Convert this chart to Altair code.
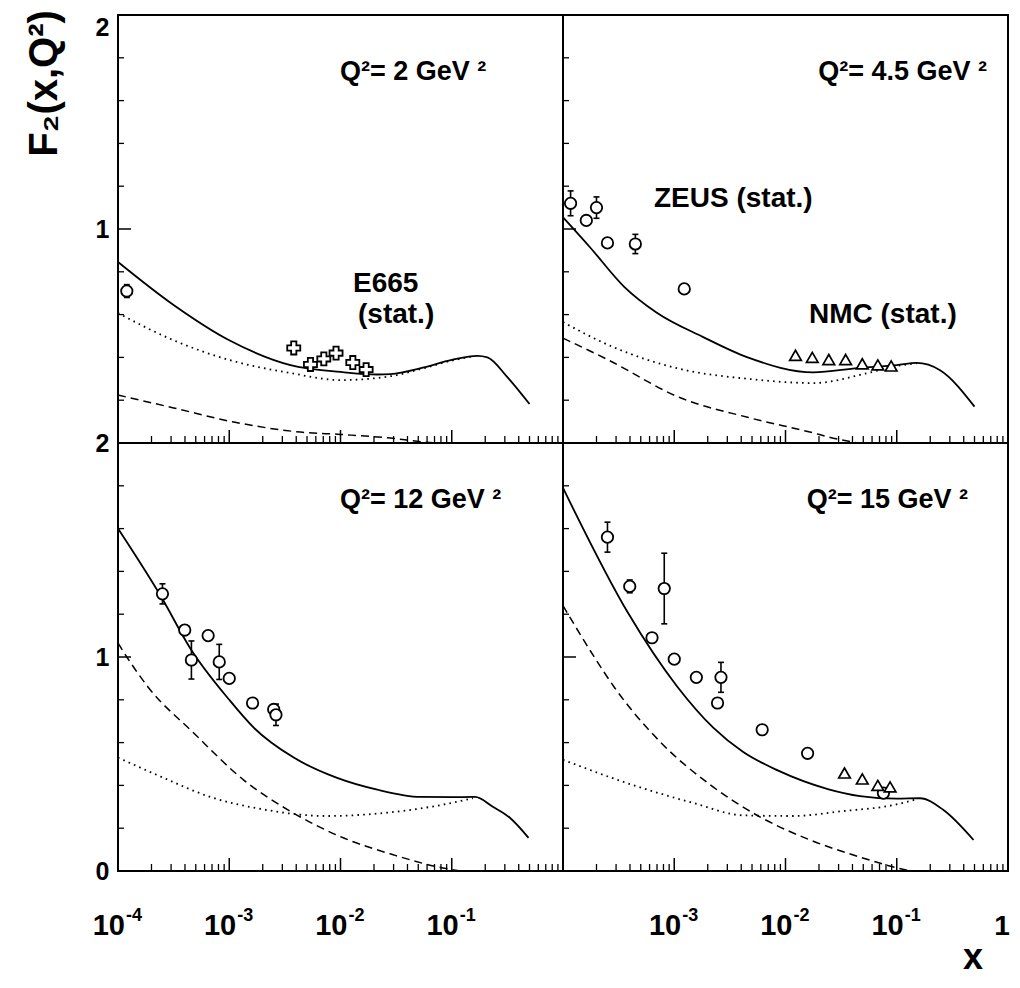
import altair as alt
import pandas as pd

FONT = "Liberation Sans"
X_DOMAIN = [1e-4, 1.0]
Y_DOMAIN = [0, 2]
W, H = 445, 428

# ---------------- curves (x, F2) ----------------
TL_SOLID_X = [1e-4, 3.16e-4, 1e-3, 3.55e-3, 0.01, 0.0214, 0.0282, 0.055, 0.1, 0.17, 0.209, 0.316, 0.50]
TL_SOLID_Y = [0.846, 0.645, 0.48, 0.364, 0.332, 0.32, 0.322, 0.352, 0.388, 0.407, 0.40, 0.308, 0.182]
TL_DOT_X = [1e-4, 3.16e-4, 1e-3, 3.55e-3, 0.01, 0.0282, 0.055, 0.1, 0.155]
TL_DOT_Y = [0.607, 0.48, 0.388, 0.327, 0.294, 0.312, 0.348, 0.385, 0.405]
TL_DASH_X = [1e-4, 3.16e-4, 1.1e-3, 4.37e-3, 0.01, 0.0282, 0.055, 0.0794]
TL_DASH_Y = [0.224, 0.164, 0.098, 0.051, 0.04, 0.023, 0.005, 0.0]

TR_SOLID_X = [1e-4, 1.74e-4, 3.55e-4, 6.92e-4, 1.82e-3, 4.57e-3, 0.0178, 0.0447, 0.1, 0.151, 0.245, 0.50]
TR_SOLID_Y = [1.055, 0.916, 0.73, 0.61, 0.495, 0.40, 0.33, 0.35, 0.364, 0.374, 0.34, 0.17]
TR_DOT_X = [1e-4, 2.51e-4, 1.15e-3, 4.57e-3, 0.0178, 0.055, 0.1, 0.151]
TR_DOT_Y = [0.565, 0.46, 0.345, 0.30, 0.28, 0.327, 0.36, 0.372]
TR_DASH_X = [1e-4, 2.51e-4, 1.15e-3, 4.57e-3, 0.0178, 0.0245, 0.0447]
TR_DASH_Y = [0.49, 0.39, 0.21, 0.12, 0.047, 0.028, 0.0]

BL_SOLID_X = [1e-4, 2.45e-4, 4.47e-4, 1e-3, 1.66e-3, 3.8e-3, 9.33e-3, 0.0214, 0.0525, 0.1, 0.162, 0.234, 0.331, 0.49]
BL_SOLID_Y = [1.60, 1.28, 1.04, 0.80, 0.67, 0.53, 0.435, 0.38, 0.346, 0.345, 0.346, 0.30, 0.25, 0.155]
BL_DOT_X = [1e-4, 2.45e-4, 6.76e-4, 1.91e-3, 7.59e-3, 0.0302, 0.0832, 0.155]
BL_DOT_Y = [0.53, 0.44, 0.346, 0.29, 0.257, 0.276, 0.31, 0.34]
BL_DASH_X = [1e-4, 1.2e-4, 1.86e-4, 4.79e-4, 1.35e-3, 3.8e-3, 0.0107, 0.0302, 0.0832, 0.12]
BL_DASH_Y = [1.065, 1.0, 0.86, 0.645, 0.425, 0.27, 0.154, 0.075, 0.014, 0.0]

BR_SOLID_X = [1e-4, 3.8e-4, 1.07e-3, 2.24e-3, 4.17e-3, 8.51e-3, 0.024, 0.0468, 0.1, 0.162, 0.263, 0.49]
BR_SOLID_Y = [1.79, 1.21, 0.86, 0.67, 0.556, 0.47, 0.383, 0.35, 0.338, 0.34, 0.285, 0.145]
BR_DOT_X = [1e-4, 3.8e-4, 1.48e-3, 4.17e-3, 0.0117, 0.0331, 0.0933, 0.151]
BR_DOT_Y = [0.52, 0.41, 0.318, 0.26, 0.257, 0.28, 0.308, 0.335]
BR_DASH_X = [1e-4, 1.91e-4, 2.88e-4, 7.59e-4, 2.14e-3, 6.03e-3, 0.0166, 0.0468, 0.0933, 0.132]
BR_DASH_Y = [1.24, 1.0, 0.86, 0.60, 0.40, 0.25, 0.145, 0.065, 0.019, 0.0]

# ---------------- data points ----------------
TL_ZEUS_X = [1.2e-4]
TL_ZEUS_Y = [0.71]
TL_ZEUS_E = [0.03]
TL_E665_X = [3.8e-3, 5.37e-3, 7.08e-3, 9.12e-3, 0.0129, 0.017]
TL_E665_Y = [0.444, 0.367, 0.393, 0.42, 0.376, 0.343]

TR_ZEUS_X = [1.17e-4, 1.62e-4, 2.0e-4, 2.51e-4, 4.47e-4, 1.23e-3]
TR_ZEUS_Y = [1.12, 1.04, 1.10, 0.935, 0.93, 0.72]
TR_ZEUS_E = [0.058, 0.0, 0.05, 0.0, 0.045, 0.0]
TR_NMC_X = [0.0123, 0.0174, 0.0245, 0.0347, 0.049, 0.0676, 0.0891]
TR_NMC_Y = [0.41, 0.40, 0.39, 0.39, 0.37, 0.365, 0.36]

BL_ZEUS_X = [2.51e-4, 3.98e-4, 4.57e-4, 6.46e-4, 8.13e-4, 1e-3, 1.62e-3, 2.51e-3, 2.63e-3]
BL_ZEUS_Y = [1.295, 1.126, 0.986, 1.10, 0.977, 0.90, 0.785, 0.755, 0.73]
BL_ZEUS_E = [0.047, 0.0, 0.089, 0.0, 0.082, 0.0, 0.0, 0.0, 0.05]

BR_ZEUS_X = [2.51e-4, 3.98e-4, 8.13e-4, 6.31e-4, 1e-3, 1.58e-3, 2.63e-3, 2.45e-3, 6.17e-3, 0.0158, 0.0759]
BR_ZEUS_Y = [1.56, 1.33, 1.32, 1.09, 0.99, 0.905, 0.905, 0.785, 0.66, 0.55, 0.364]
BR_ZEUS_E = [0.07, 0.03, 0.165, 0.0, 0.0, 0.0, 0.07, 0.0, 0.0, 0.0, 0.0]
BR_NMC_X = [0.0339, 0.049, 0.0676, 0.0871]
BR_NMC_Y = [0.458, 0.43, 0.40, 0.393]

# ---------------- axis structure ----------------
X_MAJOR = [1e-3, 1e-2, 1e-1]
X_MINOR = [k * 10.0 ** d for d in range(-4, 0) for k in range(2, 10)]
Y_MAJOR = [1.0]
Y_MINOR = [0.2, 0.4, 0.6, 0.8, 1.2, 1.4, 1.6, 1.8]
BL_XLAB = [1e-4, 1e-3, 1e-2, 1e-1]
BL_XEXP = ["-4", "-3", "-2", "-1"]
BR_XLAB = [1e-3, 1e-2, 1e-1]
BR_XEXP = ["-3", "-2", "-1"]
BR_ONE = [1.0]

xs = alt.Scale(type="log", domain=X_DOMAIN, nice=False)
ys = alt.Scale(domain=Y_DOMAIN, nice=False, zero=False)

STYLES = {
    "solid": dict(strokeWidth=1.8),
    "dot": dict(strokeWidth=1.8, strokeDash=[1.6, 4.2]),
    "dash": dict(strokeWidth=1.5, strokeDash=[8, 5]),
}


def panel(curves, zeus, crosses, tris, texts, yaxis, xlabels=None, one=False):
    X = lambda f: alt.X(f, scale=xs, axis=None)
    Y = lambda f: alt.Y(f, scale=ys, axis=yaxis)
    layers = []
    for xv, yv, st in curves:
        df = pd.DataFrame({"x": xv, "y": yv})
        layers.append(
            alt.Chart(df).mark_line(color="black", interpolate="monotone", **STYLES[st])
            .encode(x=X("x:Q"), y=Y("y:Q"))
        )
    # ticks (inward)
    layers.append(
        alt.Chart(pd.DataFrame({"v": X_MAJOR})).mark_tick(
            orient="vertical", size=13, thickness=1.5, yOffset=-6.5, color="black", opacity=1)
        .encode(x=X("v:Q"), y=alt.YDatum(0, scale=ys, axis=yaxis))
    )
    layers.append(
        alt.Chart(pd.DataFrame({"v": X_MINOR})).mark_tick(
            orient="vertical", size=7, thickness=1.3, yOffset=-3.5, color="black", opacity=1)
        .encode(x=X("v:Q"), y=alt.YDatum(0, scale=ys, axis=yaxis))
    )
    layers.append(
        alt.Chart(pd.DataFrame({"v": Y_MAJOR})).mark_tick(
            orient="horizontal", size=13, thickness=1.5, xOffset=6.5, color="black", opacity=1)
        .encode(y=Y("v:Q"), x=alt.XDatum(1e-4, scale=xs, axis=None))
    )
    layers.append(
        alt.Chart(pd.DataFrame({"v": Y_MINOR})).mark_tick(
            orient="horizontal", size=6, thickness=1.3, xOffset=3, color="black", opacity=1)
        .encode(y=Y("v:Q"), x=alt.XDatum(1e-4, scale=xs, axis=None))
    )
    if zeus is not None:
        zx, zy, ze = zeus
        dfz = pd.DataFrame({"x": zx, "y": zy, "e": ze})
        dfe = dfz[dfz["e"] > 0].copy()
        dfe["lo"] = dfe["y"] - dfe["e"]
        dfe["hi"] = dfe["y"] + dfe["e"]
        if len(dfe):
            layers.append(
                alt.Chart(dfe).mark_rule(color="black", strokeWidth=1.6)
                .encode(x=X("x:Q"), y=Y("lo:Q"), y2=alt.Y2("hi:Q"))
            )
            for col in ["lo", "hi"]:
                layers.append(
                    alt.Chart(dfe).mark_tick(orient="horizontal", size=6, thickness=1.6,
                                             color="black", opacity=1)
                    .encode(x=X("x:Q"), y=Y(col + ":Q"))
                )
        layers.append(
            alt.Chart(dfz).mark_point(shape="circle", size=130, filled=True, fill="white",
                                      stroke="black", strokeWidth=1.8, opacity=1)
            .encode(x=X("x:Q"), y=Y("y:Q"))
        )
    if crosses is not None:
        dfc = pd.DataFrame({"x": crosses[0], "y": crosses[1]})
        layers.append(
            alt.Chart(dfc).mark_point(shape="cross", size=170, filled=True, fill="white",
                                      stroke="black", strokeWidth=1.8, opacity=1)
            .encode(x=X("x:Q"), y=Y("y:Q"))
        )
    if tris is not None:
        dft = pd.DataFrame({"x": tris[0], "y": tris[1]})
        layers.append(
            alt.Chart(dft).mark_point(shape="triangle-up", size=135, filled=True, fill="white",
                                      stroke="black", strokeWidth=1.7, opacity=1)
            .encode(x=X("x:Q"), y=Y("y:Q"))
        )
    for t, px, py, fs, al in texts:
        layers.append(
            alt.Chart(pd.DataFrame({"t": [t]})).mark_text(
                font=FONT, fontWeight="bold", fontSize=fs, align=al,
                baseline="alphabetic", color="black")
            .encode(text="t:N", x=alt.value(px), y=alt.value(py))
        )
    if xlabels is not None:
        vals, exps = xlabels
        dfl = pd.DataFrame({"v": vals, "e": exps})
        layers.append(
            alt.Chart(dfl).mark_text(font=FONT, fontWeight="bold", fontSize=29, align="right",
                                     baseline="alphabetic", dx=7, color="black", text="10")
            .encode(x=X("v:Q"), y=alt.value(H + 64))
        )
        layers.append(
            alt.Chart(dfl).mark_text(font=FONT, fontWeight="bold", fontSize=18, align="left",
                                     baseline="alphabetic", dx=8, color="black")
            .encode(x=X("v:Q"), y=alt.value(H + 50), text="e:N")
        )
    if one:
        layers.append(
            alt.Chart(pd.DataFrame({"v": BR_ONE})).mark_text(
                font=FONT, fontWeight="bold", fontSize=28, align="center",
                baseline="alphabetic", dx=-6, color="black", text="1")
            .encode(x=X("v:Q"), y=alt.value(H + 64))
        )
    return alt.layer(*layers).properties(width=W, height=H)


axis_common = dict(labelFont=FONT, labelFontSize=25, labelFontWeight="bold", labelColor="black",
                   labelPadding=9, ticks=False, domain=False, grid=False, format=".0f")

tl_axis = alt.Axis(values=[1, 2], labelFlush=True, title="F₂(x,Q²)", titleFont=FONT,
                   titleFontSize=40, titleFontWeight="bold", titleColor="black", titleAngle=270,
                   titleX=-74, titleY=68, titleAlign="center", titleBaseline="middle",
                   **axis_common)
bl_axis = alt.Axis(values=[0, 1, 2], labelFlush=False, title=None, **axis_common)

TL = panel(
    [(TL_SOLID_X, TL_SOLID_Y, "solid"), (TL_DOT_X, TL_DOT_Y, "dot"), (TL_DASH_X, TL_DASH_Y, "dash")],
    (TL_ZEUS_X, TL_ZEUS_Y, TL_ZEUS_E), (TL_E665_X, TL_E665_Y), None,
    [("Q²= 2 GeV ²", 222, 65, 27, "left"), ("E665", 235, 277, 28, "left"),
     ("(stat.)", 240, 308, 28, "left")],
    tl_axis,
)
TR = panel(
    [(TR_SOLID_X, TR_SOLID_Y, "solid"), (TR_DOT_X, TR_DOT_Y, "dot"), (TR_DASH_X, TR_DASH_Y, "dash")],
    (TR_ZEUS_X, TR_ZEUS_Y, TR_ZEUS_E), None, (TR_NMC_X, TR_NMC_Y),
    [("Q²= 4.5 GeV ²", 424, 65, 27, "right"), ("ZEUS (stat.)", 91, 192, 28, "left"),
     ("NMC (stat.)", 246, 308, 28, "left")],
    None,
)
BL = panel(
    [(BL_SOLID_X, BL_SOLID_Y, "solid"), (BL_DOT_X, BL_DOT_Y, "dot"), (BL_DASH_X, BL_DASH_Y, "dash")],
    (BL_ZEUS_X, BL_ZEUS_Y, BL_ZEUS_E), None, None,
    [("Q²= 12 GeV ²", 222, 65, 27, "left")],
    bl_axis, xlabels=(BL_XLAB, BL_XEXP),
)
BR = panel(
    [(BR_SOLID_X, BR_SOLID_Y, "solid"), (BR_DOT_X, BR_DOT_Y, "dot"), (BR_DASH_X, BR_DASH_Y, "dash")],
    (BR_ZEUS_X, BR_ZEUS_Y, BR_ZEUS_E), None, (BR_NMC_X, BR_NMC_Y),
    [("Q²= 15 GeV ²", 405, 65, 27, "right"), ("x", 410, 526, 36, "center")],
    None, xlabels=(BR_XLAB, BR_XEXP), one=True,
)

chart = (
    alt.concat(TL, TR, BL, BR, columns=2, spacing=0, bounds="flush")
    .resolve_scale(x="independent", y="independent")
    .properties(padding={"left": 15, "top": 0, "right": 0, "bottom": 0})
    .configure_view(stroke="black", strokeWidth=2)
)

chart.save("out.html", embed_options={"renderer": "svg", "actions": False})
